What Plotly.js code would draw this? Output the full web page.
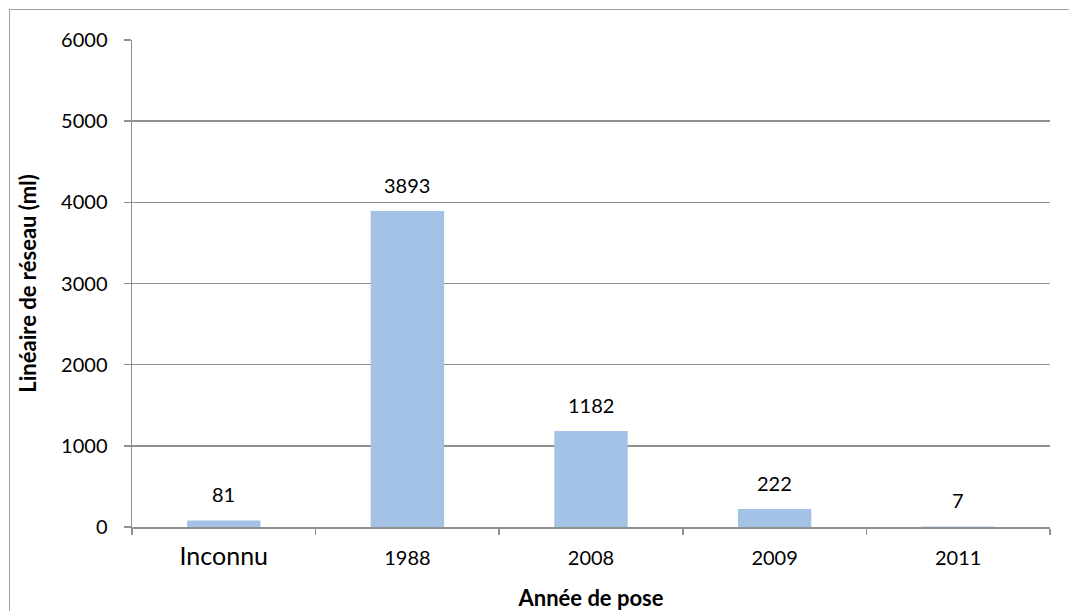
<!DOCTYPE html>
<html><head><meta charset="utf-8">
<script src="https://cdn.plot.ly/plotly-3.0.1.min.js"></script>
<style>
html,body{margin:0;padding:0;background:#fff;}
#wrap{position:relative;width:1069px;height:611px;overflow:hidden;}
#frame{position:absolute;left:9px;top:9px;width:1200px;height:800px;border:1.5px solid #a0a0a0;box-sizing:border-box;pointer-events:none;}
#chart{position:absolute;left:0;top:0;width:1069px;height:611px;}
</style></head>
<body><div id="wrap"><div id="frame"></div><div id="chart"></div></div>
<script>
const categories = ["Inconnu", "1988", "2008", "2009", "2011"];
const values = [81, 3893, 1182, 222, 7];
const tickLabels = ['<span style="font-size:25px">Inconnu</span>', "1988", "2008", "2009", "2011"];
const yTicks = [0, 1000, 2000, 3000, 4000, 5000, 6000];

const font = "Lato, 'Open Sans', sans-serif";
const idx = categories.map((c, i) => i);
const trace = {
  type: "bar", x: categories, y: values,
  marker: {color: "#A4C2E6"},
  hoverinfo: "none"
};
const annotations = idx.map(i => ({
  x: i, y: values[i], xref: "x", yref: "y", text: String(values[i]),
  showarrow: false, yanchor: "bottom", yshift: 12,
  font: {family: font, size: 20, color: "#000"}
}));
const layout = {
  width: 1069, height: 611,
  margin: {l: 132, r: 19, t: 40, b: 84},
  paper_bgcolor: "rgba(0,0,0,0)", plot_bgcolor: "rgba(0,0,0,0)",
  bargap: 0.6, showlegend: false,
  font: {family: font, size: 20, color: "#000"},
  xaxis: {
    type: "category", categoryorder: "array", categoryarray: categories,
    range: [-0.5, categories.length - 0.5], autorange: false,
    tickvals: idx, ticktext: tickLabels,
    ticks: "outside", tickson: "boundaries", ticklen: 6, tickcolor: "#909090", tickwidth: 1.5,
    showline: true, linecolor: "#909090", linewidth: 1.5, showgrid: false,
    tickfont: {family: font, size: 20}, ticklabelstandoff: 12,
    title: {text: "Année de pose", font: {family: font, size: 22, weight: "bold"}, standoff: 22}
  },
  yaxis: {
    range: [0, 6000], autorange: false, tickvals: yTicks, ticks: "outside", ticklen: 7, tickcolor: "#909090", tickwidth: 1.5,
    showline: true, linecolor: "#909090", linewidth: 1.5,
    showgrid: true, gridcolor: "#909090", gridwidth: 1.5, zeroline: false,
    tickfont: {family: font, size: 20}, ticklabelstandoff: 12,
    title: {text: "Linéaire de réseau (ml)", font: {family: font, size: 22, weight: "bold"}, standoff: 18}
  },
  annotations: annotations
};
Plotly.newPlot("chart", [trace], layout, {staticPlot: true, displayModeBar: false});
</script></body></html>
